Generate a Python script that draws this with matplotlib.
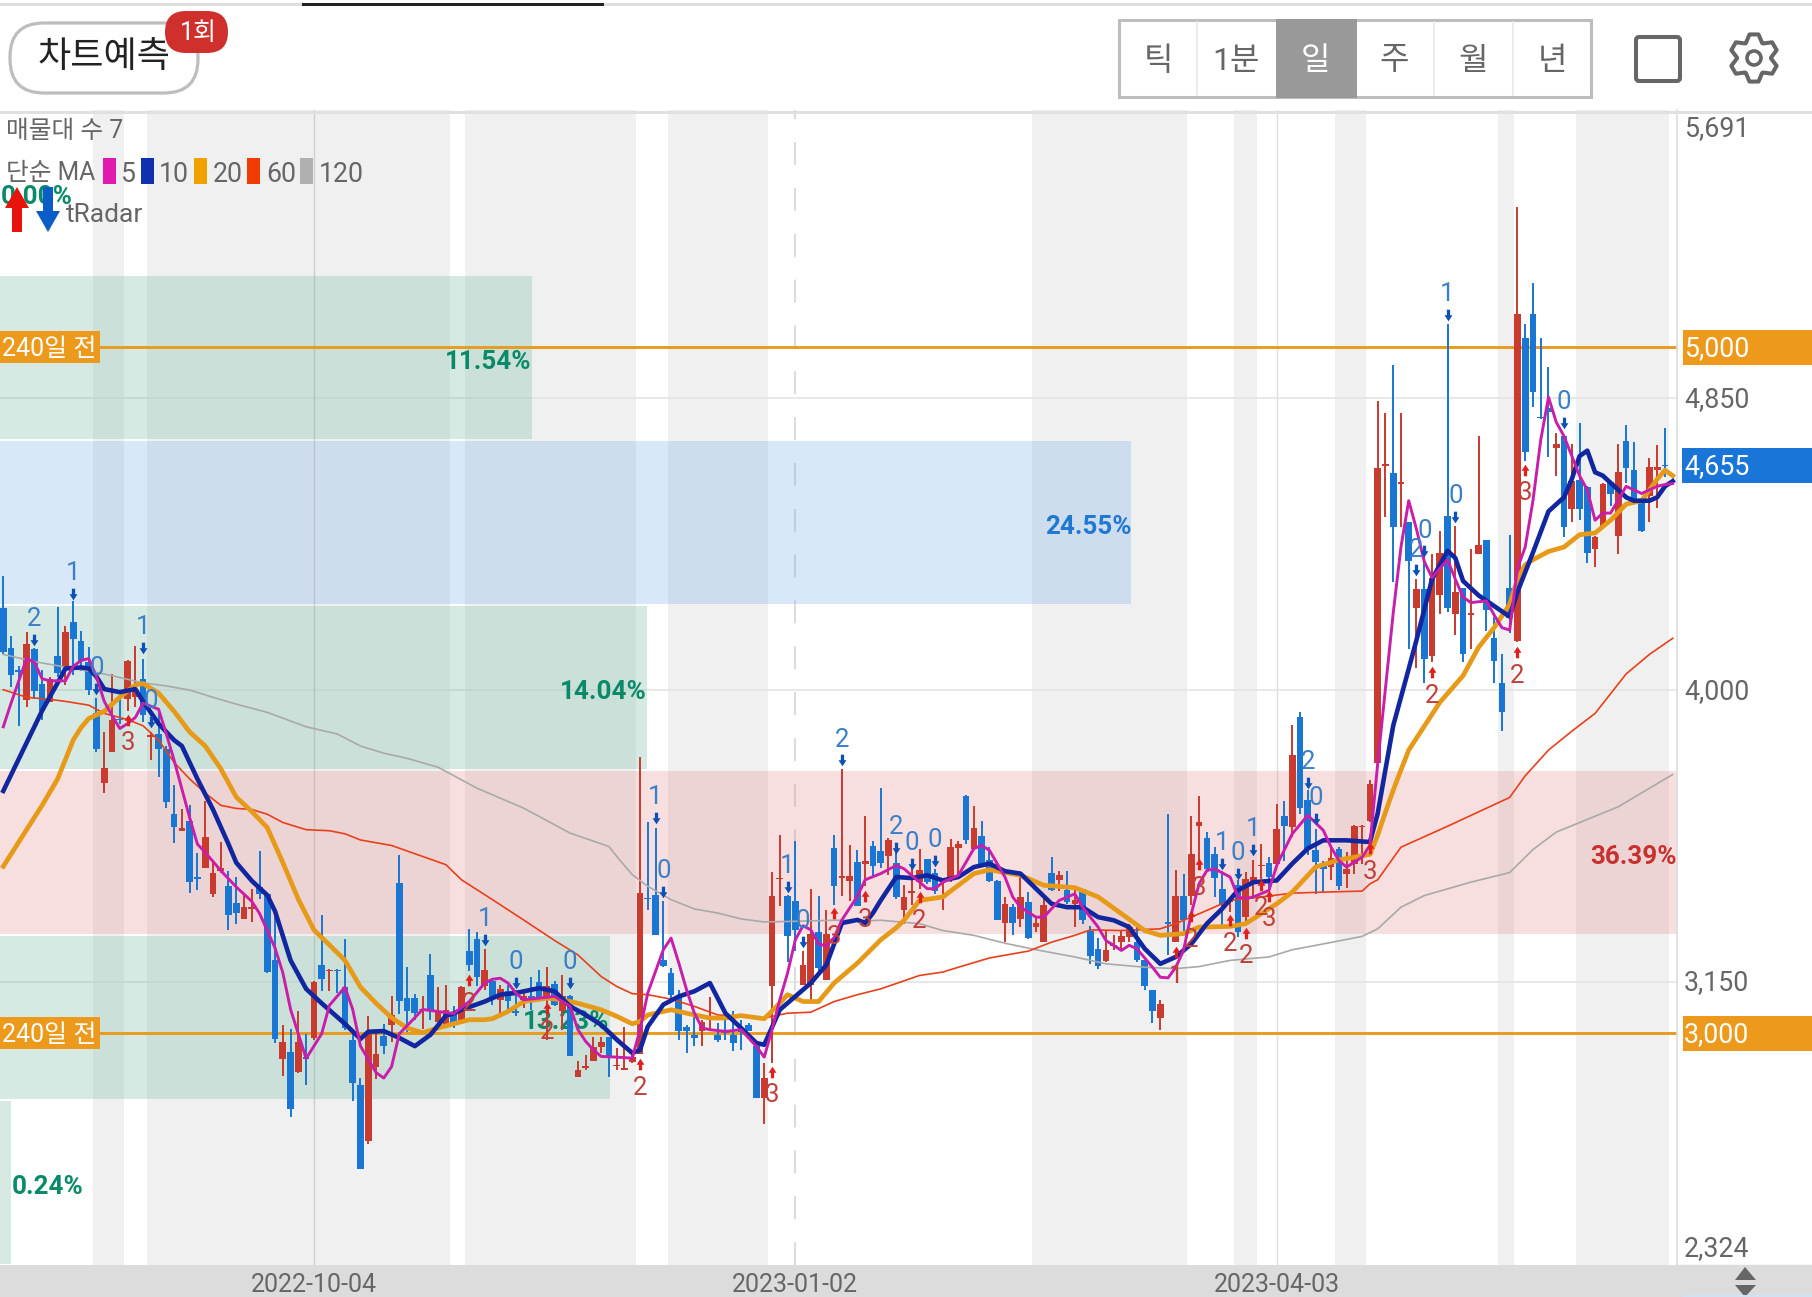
#!/usr/bin/env python3
# -*- coding: utf-8 -*-

import numpy as np
import matplotlib
matplotlib.use('Agg')
import matplotlib.pyplot as plt
from matplotlib.patches import Rectangle, FancyBboxPatch, Polygon, Circle

plt.rcParams['font.family'] = ['Roboto', 'Noto Sans CJK KR', 'DejaVu Sans']

# Candles, one entry per trading day, in won. R = red (up), B = blue (down)
candleColor = ("BBBRBBRBRB" "BBBRRBRRBR" "BBBRBBRRRB" "BRRBBBRBRB" "RBRBBBBRRB"
               "RBBBRBRRBR" "BBRBRBBRBB" "RBRBRRRRBR" "RRRBBBBBBB" "RRBBBBBBRR"
               "RBBRRBRBRR" "BRBBRBRRRB" "BRRRBRBBBR" "BRBRRBRBRB" "BBRRRRBBBR"
               "BRBRRBBBRB" "RRRBRBRBBB" "BRBRRRRRRB" "RBRBRRBRBR" "RBBBBRBBBB"
               "RBRBBRRBRB" "BBRRBB")
candleHigh = [4333,4158,4069,4170,4122,4059,4039,4241,4188,4259,
              4173,4126,3976,3878,4047,3973,4089,4128,4092,3878,
              3932,3837,3724,3652,3664,3524,3676,3497,3557,3474,
              3456,3402,3420,3530,3408,3349,3024,3012,3063,2998,
              3152,3343,3188,3188,3274,3010,2869,3051,3004,3027,
              3107,3519,3194,3114,3107,3230,3134,3141,3078,3136,
              3303,3295,3245,3160,3141,3141,3126,3126,3165,3185,
              3194,3151,3170,3112,2920,2937,2990,2990,2990,2956,
              3019,2942,3804,3614,3598,3384,3190,3126,3024,3053,
              3039,3105,3029,3053,3063,3039,3029,2966,2913,3469,
              3578,3403,3559,3238,3420,3399,3360,3578,3770,3549,
              3535,3634,3559,3714,3569,3542,3431,3484,3538,3508,
              3479,3440,3567,3560,3693,3662,3617,3542,3445,3397,
              3377,3465,3411,3338,3397,3513,3472,3472,3421,3421,
              3311,3278,3299,3285,3299,3319,3309,3212,3126,3097,
              3638,3476,3463,3632,3691,3586,3542,3474,3397,3445,
              3469,3505,3550,3513,3667,3677,3897,3936,3708,3596,
              3503,3542,3542,3528,3606,3606,3737,4844,4807,4948,
              4807,4490,4323,4417,4396,4464,5068,4479,4297,4411,
              4742,4437,4214,4106,4453,5408,5068,5188,5026,4943,
              4750,4745,4717,4779,4594,4450,4604,4609,4717,4773,
              4724,4557,4677,4714,4764,4655]
candleTop = [4238,4122,4059,4133,4119,4019,4033,4098,4170,4197,
             4142,4081,3932,3774,3914,3917,4086,3997,4033,3869,
             3872,3828,3638,3597,3619,3455,3572,3468,3480,3428,
             3378,3369,3367,3426,3405,3212,2974,2944,2974,2929,
             3150,3200,3184,3184,3134,2980,2849,2998,2938,2992,
             3054,3438,3102,3102,3071,3168,3063,3068,3060,3134,
             3240,3275,3185,3151,3128,3124,3063,3109,3109,3148,
             3138,3143,3109,3109,2893,2903,2959,2973,2990,2908,
             2898,2930,3408,3394,3403,3214,3175,3107,3017,2995,
             3031,3041,2995,3005,2995,3006,3024,2961,2869,3399,
             3452,3399,3384,3199,3290,3295,3290,3539,3459,3459,
             3498,3503,3544,3530,3564,3497,3397,3413,3476,3508,
             3467,3397,3542,3552,3692,3598,3576,3505,3442,3377,
             3367,3397,3382,3321,3372,3467,3462,3416,3387,3421,
             3299,3246,3241,3258,3282,3309,3265,3212,3126,3084,
             3323,3401,3401,3521,3615,3569,3521,3421,3387,3433,
             3450,3455,3491,3497,3596,3632,3812,3921,3680,3533,
             3496,3511,3538,3479,3603,3605,3727,4648,4658,4633,
             4606,4490,4294,4294,4328,4401,4508,4286,4297,4224,
             4422,4437,4151,4021,4297,5097,5026,5097,4797,4823,
             4717,4742,4609,4612,4592,4446,4602,4606,4635,4727,
             4641,4554,4651,4651,4656,4655]
candleBottom = [4110,4045,4054,3971,3997,3940,3965,4051,4066,4148,
                4086,4000,3828,3729,3819,3913,3973,3979,3926,3864,
                3828,3674,3601,3590,3440,3450,3480,3405,3474,3345,
                3349,3334,3361,3405,3179,2983,2924,2780,2888,2924,
                2986,3158,3180,3180,3015,2855,2605,2686,2900,2962,
                3024,3093,3063,3060,3067,3063,3033,3019,3024,3031,
                3199,3165,3136,3099,3097,3095,3058,3097,3092,3105,
                3102,3083,3063,2932,2872,2899,2920,2959,2927,2903,
                2893,2917,2939,3390,3287,3196,3112,3005,3005,2985,
                3005,3037,2981,3000,2971,3002,3005,2810,2810,3136,
                3448,3282,3301,3141,3141,3190,3154,3428,3453,3442,
                3371,3492,3486,3496,3515,3397,3358,3409,3440,3440,
                3414,3393,3445,3540,3564,3538,3494,3443,3329,3321,
                3321,3333,3278,3309,3265,3418,3445,3382,3375,3329,
                3226,3197,3210,3254,3265,3280,3212,3136,3064,3044,
                3319,3265,3329,3401,3604,3479,3452,3372,3382,3295,
                3338,3437,3487,3455,3494,3603,3601,3657,3538,3499,
                3479,3484,3428,3465,3494,3601,3618,3786,4654,4474,
                4602,4375,4240,4092,4099,4276,4240,4221,4106,4220,
                4398,4234,4085,3935,4210,4144,4695,4870,4793,4812,
                4706,4474,4529,4529,4401,4411,4474,4573,4450,4646,
                4557,4464,4565,4641,4653,4655]
candleLow = [4104,4009,3896,3950,3973,3914,3965,4039,4015,4045,
             4057,3985,3819,3700,3819,3902,3938,3950,3908,3795,
             3747,3655,3555,3590,3408,3417,3480,3396,3468,3301,
             3319,3334,3325,3390,3176,2971,2876,2754,2885,2849,
             2980,3123,3123,3117,3010,2801,2605,2676,2867,2940,
             2974,3057,3004,3039,3012,3039,3033,3019,3015,3031,
             3180,3136,3126,3083,3060,3070,3051,3073,3068,3097,
             2981,3078,3010,2932,2872,2891,2920,2942,2872,2893,
             2893,2913,2939,3360,3287,3194,3102,2981,2942,2961,
             2961,3010,2973,2981,2947,2951,3005,2810,2736,2913,
             3371,3206,3238,3141,3092,3175,3154,3374,3400,3384,
             3371,3428,3457,3481,3462,3392,3319,3372,3421,3435,
             3406,3360,3440,3455,3552,3533,3494,3440,3329,3265,
             3285,3309,3275,3295,3265,3414,3414,3377,3309,3317,
             3202,3188,3207,3241,3241,3265,3207,3126,3029,3008,
             3229,3265,3299,3372,3494,3469,3397,3309,3353,3280,
             3319,3397,3450,3416,3494,3503,3572,3640,3518,3406,
             3411,3445,3416,3424,3465,3492,3615,3786,4505,4315,
             4474,4120,4065,4021,4083,4221,4229,4161,4083,4120,
             4398,4172,4021,3880,4167,4141,4669,4825,4790,4679,
             4625,4446,4490,4495,4370,4359,4474,4536,4396,4604,
             4552,4460,4490,4531,4620,4655]

# Moving averages at the marked days
ma5Day = [0,1,2,3,4,5,6,8,9,10,11,12,13,14,15,16,17,18,20,21,22,23,24,25,26,28,30,32,33,35,36,37,38,39,41,42,44,45,46,48,49,50,51,53,54,56,58,
          60,62,63,64,65,66,67,69,71,73,74,75,76,77,79,81,82,83,85,86,87,88,89,90,91,93,95,97,98,99,100,101,102,103,104,105,106,107,108,110,111,
          113,115,116,118,119,120,121,123,125,126,127,129,130,131,133,134,136,138,139,141,142,144,145,146,148,149,150,151,152,153,154,155,156,158,159,160,161,163,164,166,168,170,171,172,173,175,176,177,
          179,180,181,182,183,184,186,187,188,189,191,192,193,194,195,196,197,198,199,200,201,203,204,205,206,207,209,211,213,214,215]
ma5 = [3893,3962,4027,4092,4081,4033,4027,4027,4069,4086,4092,4039,3967,3926,3888,3902,3920,3962,3944,3872,3795,3712,3628,3551,3527,3474,3426,3384,3349,3248,3176,3069,2998,2926,2998,3081,3134,3069,2962,2885,2869,2902,2998,3045,3069,3063,3057,
       3092,3146,3157,3160,3146,3117,3097,3102,3107,3078,3010,2976,2951,2932,2930,2927,3010,3117,3243,3277,3204,3126,3058,3015,3010,3005,3010,2961,2930,3010,3097,3175,3272,3313,3301,3260,3254,3279,3330,3399,3447,
       3465,3489,3479,3440,3421,3421,3440,3460,3538,3547,3533,3455,3397,3367,3338,3338,3387,3406,3367,3309,3270,3241,3256,3246,3192,3163,3161,3192,3241,3348,3435,3474,3479,3455,3397,3392,3397,3416,3489,3581,3635,3591,3542,3503,3484,3513,3547,3785,
       4224,4417,4552,4469,4375,4328,4380,4323,4271,4255,4260,4219,4182,4175,4354,4417,4552,4729,4854,4781,4740,4625,4583,4495,4516,4516,4594,4573,4594,4599,4602]
ma10Day = [0,5,7,8,10,11,12,13,15,17,18,20,22,23,25,27,29,30,32,34,35,37,39,41,44,46,47,49,51,53,55,57,58,
           59,62,64,66,69,71,73,75,77,79,81,82,83,85,87,89,91,93,95,97,98,100,102,104,106,108,110,111,112,
           113,115,117,119,121,123,125,127,129,131,133,135,137,139,141,143,145,147,149,151,153,155,157,159,161,164,166,168,170,173,176,177,
           179,181,182,184,186,187,188,190,192,194,195,197,199,201,202,203,204,205,206,207,209,210,212,213,214,215]
ma10 = [3706,3940,4021,4063,4066,4063,4039,4003,3994,4003,3967,3902,3854,3837,3741,3652,3551,3497,3444,3402,3355,3212,3129,3087,3027,2983,3004,3006,2986,2962,2995,3051,3057,
        3068,3092,3112,3117,3131,3122,3078,3053,3024,2981,2942,2951,3019,3083,3107,3122,3146,3058,3015,2971,2966,3068,3107,3146,3199,3321,3330,3321,3350,
        3387,3455,3452,3460,3445,3455,3484,3494,3472,3465,3421,3377,3367,3367,3338,3329,3309,3246,3202,3222,3260,3319,3363,3416,3440,3445,3494,3538,3562,3562,3557,3640,
        3896,4062,4146,4323,4406,4385,4318,4276,4245,4214,4286,4401,4521,4562,4615,4682,4698,4635,4625,4604,4562,4552,4552,4562,4594,4609]
ma20Day = [0,3,5,7,9,10,11,13,15,17,18,20,22,24,26,28,30,32,34,36,38,40,42,44,46,48,50,52,54,56,58,
           60,62,63,65,67,70,72,74,77,79,81,82,83,86,89,91,93,95,98,100,101,103,105,107,110,113,
           115,116,118,119,121,123,125,127,131,134,138,141,144,147,149,152,154,158,160,164,166,169,172,176,177,178,179,180,181,
           185,188,190,192,194,195,196,197,199,201,203,205,207,209,211,213,214,215]
ma20 = [3486,3593,3664,3741,3854,3890,3917,3938,3979,4015,4019,3991,3938,3878,3837,3771,3688,3646,3599,3497,3390,3301,3257,3212,3134,3087,3045,3015,3001,3015,3027,
        3039,3039,3042,3063,3092,3102,3097,3087,3068,3049,3027,3034,3053,3068,3053,3044,3044,3051,3042,3087,3112,3092,3092,3146,3204,3272,
        3307,3329,3387,3390,3397,3431,3465,3476,3460,3431,3424,3397,3348,3299,3285,3290,3309,3311,3319,3377,3411,3484,3505,3521,3577,3644,3708,3767,3825,
        3964,4042,4125,4182,4250,4323,4365,4380,4404,4417,4453,4458,4495,4542,4552,4615,4641,4625]
ma60Day = [0,3,6,8,11,13,16,18,20,22,24,26,28,30,32,34,36,39,42,44,46,50,54,57,59,63,67,71,74,77,79,81,83,86,89,92,95,98,101,104,107,110,113,
           118,121,123,127,132,135,138,140,144,149,151,154,158,162,166,170,175,176,177,180,186,194,196,199,202,205,209,212,215]
ma60 = [4001,3979,3973,3967,3956,3932,3914,3896,3854,3789,3741,3700,3664,3655,3652,3638,3614,3593,3590,3581,3563,3547,3515,3491,3447,3389,3330,3270,3228,3165,3136,3115,3112,3099,3078,3053,3049,3044,3058,3061,3092,3112,3129,
        3168,3178,3192,3219,3239,3265,3285,3301,3299,3304,3319,3348,3387,3397,3408,3411,3414,3435,3447,3542,3603,3687,3750,3825,3880,3932,4047,4104,4151]
ma120Day = [0,4,9,13,18,21,24,27,30,34,39,43,46,49,52,56,61,67,73,78,79,81,83,86,89,92,95,98,102,107,112,
            113,118,121,125,129,133,138,142,147,151,154,158,163,166,170,175,177,180,183,189,194,197,200,208,215]
ma120 = [4104,4083,4063,4047,4021,4012,4000,3979,3959,3935,3893,3872,3837,3816,3801,3775,3714,3656,3583,3544,3515,3462,3428,3389,3362,3350,3333,3324,3326,3329,3328,
         3329,3319,3299,3285,3262,3243,3222,3202,3192,3188,3194,3212,3222,3243,3260,3282,3304,3367,3401,3440,3468,3535,3586,3660,3754]

# Volume by price bins, top to bottom, in percent
volumeShare = [0.00, 11.54, 24.55, 14.04, 36.39, 13.23, 0.24]
volumeKind = ['g', 'g', 'b', 'g', 'r', 'g', 'g']

# Signals: day, number, price of the small arrow
downDay = [4,9,12,18,19,62,66,73,84,85,101,103,108,115,117,120,157,159,161,168,169,182,183,186,187,201]
downNum = [2,1,0,1,0,1,0,0,1,0,1,0,2,2,0,0,1,0,1,2,0,2,0,1,0,0]
downPrice = [4146,4280,4003,4122,3908,3272,3146,3146,3627,3411,3426,3267,3795,3539,3494,3503,3494,3465,3535,3729,3625,4349,4404,5094,4505,4779]
upDay = [16,60,70,82,99,107,111,118,151,153,154,158,160,162,163,176,184,195,196]
upNum = [3,2,2,2,3,3,3,2,1,2,3,2,2,2,3,3,2,2,3]
upPrice = [3914,3155,3073,2910,2888,3350,3399,3397,3236,3340,3492,3329,3293,3433,3401,3539,4052,4111,4643]

priceMin = 2324
priceMax = 5691
gridPrices = [4850, 4000, 3150]
axisLabels = [5691, 4850, 4000, 3150, 2324]
anchorPrices = [5000, 3000]
lastPrice = 4655
dateDays = [40, 102, 164]
dateLabels = ['2022-10-04', '2023-01-02', '2023-04-03']
shadeStart = [11.5, 18.5, 59.5, 85.6, 132.5, 158.5, 171.5, 192.5, 202.5]
shadeEnd = [15.5, 57.5, 81.5, 98.5, 152.4, 161.5, 175.5, 194.5, 214.5]

RED = '#c93a2f'
BLUE = '#1976d2'
ORANGE = '#e89b1c'
GRAY_TEXT = '#666666'
profileColors = {'g': '#68b59b', 'b': '#73aae6', 'r': '#e68989'}
labelColors = {'g': '#0a8a68', 'b': '#1f78d2', 'r': '#c8322e'}

W, H = 1812, 1297
fig = plt.figure(figsize=(W/100, H/100), dpi=100, facecolor='white')
fig.add_artist(Rectangle((0, 0), 1, 32/H, transform=fig.transFigure,
                         color='#dcdcdc', zorder=-1))

# main plot
plotRight = 1677
ax = fig.add_axes([0, 32/H, plotRight/W, 1155/H], zorder=1)
xMin = -0.425
xMax = 215.55
ax.set_xlim(xMin, xMax)
ax.set_ylim(priceMin, priceMax)
ax.set_yticks([])
for side in ['top', 'left', 'bottom']:
    ax.spines[side].set_visible(False)
ax.spines['right'].set_color('#dcdcdc')
ax.spines['right'].set_linewidth(1.2)
ax.set_xticks(dateDays)
ax.set_xticklabels(dateLabels, fontsize=18, color=GRAY_TEXT)
ax.tick_params(axis='x', length=0, pad=5.5)

for start, end in zip(shadeStart, shadeEnd):
    ax.axvspan(start, end, color='#f0f0f0', lw=0, zorder=0)

for price in gridPrices:
    ax.axhline(price, color='#e2e2e2', lw=1.1, zorder=1)
ax.axvline(dateDays[0], color='#cfcfcf', lw=1, zorder=1)
ax.axvline(dateDays[1], color='#dcdcdc', lw=1.5, dashes=(11, 11), zorder=1)
ax.axvline(dateDays[2], color='#e0e0e0', lw=1, zorder=1)

# volume profile behind everything
binEdges = np.linspace(priceMax, priceMin, len(volumeShare)+1)
binHeight = (priceMax-priceMin)/len(volumeShare)
for k, share in enumerate(volumeShare):
    center = (binEdges[k]+binEdges[k+1])/2
    barWidth = share/max(volumeShare)*(xMax-xMin)
    ax.barh(center, barWidth, left=xMin, height=binHeight-6,
            color=profileColors[volumeKind[k]], alpha=0.27, lw=0, zorder=1.5)
    if share < 1:
        ax.text(xMin+barWidth+0.05, center-13, '%.2f%%' % share, ha='left', va='center',
                fontsize=18.7, fontweight='bold', color=labelColors[volumeKind[k]], zorder=2)
    else:
        ax.text(xMin+barWidth, center-13, '%.2f%%' % share, ha='right', va='center',
                fontsize=18.7, fontweight='bold', color=labelColors[volumeKind[k]], zorder=2)

# anchor lines
for price in anchorPrices:
    ax.axhline(price, color=ORANGE, lw=2.1, zorder=2.5)
    ax.barh(price, 12.9, left=xMin, height=93, color='#ed9a1c', lw=0, zorder=2.6)
    ax.text(xMin+0.3, price-6, '240일 전', color='white', fontsize=18, va='center', ha='left', zorder=2.7)

# candles
days = np.arange(len(candleHigh))
colors = [RED if c == 'R' else BLUE for c in candleColor]
ax.vlines(days, candleLow, candleHigh, colors=colors, lw=1.4, zorder=3)
ax.bar(days, np.array(candleTop)-np.array(candleBottom), bottom=candleBottom,
       width=0.86, color=colors, lw=0, zorder=3)

# moving averages
ax.plot(ma120Day, ma120, color='#a9a9a9', lw=1.2, zorder=4)
ax.plot(ma60Day, ma60, color='#e8401a', lw=1.2, zorder=4)
ax.plot(ma20Day, ma20, color='#e69a18', lw=3.4, zorder=4.1, solid_joinstyle='round')
ax.plot(ma10Day, ma10, color='#1226a0', lw=3.3, zorder=4.2, solid_joinstyle='round')
ax.plot(ma5Day, ma5, color='#c81eaa', lw=2.1, zorder=4.3, solid_joinstyle='round')

# signals
downArrow = [(-0.28, 1), (0.28, 1), (0.28, 0.05), (0.68, 0.05), (0, -1), (-0.68, 0.05), (-0.28, 0.05)]
upArrow = [(x, -y) for x, y in downArrow]
ax.scatter(downDay, downPrice, marker=downArrow, s=70, color='#0a50b8', lw=0, zorder=5)
ax.scatter(upDay, upPrice, marker=upArrow, s=70, color='#e0201c', lw=0, zorder=5)
for day, num, price in zip(downDay, downNum, downPrice):
    ax.annotate(str(num), (day, price), xytext=(0, 15), textcoords='offset points',
                ha='center', va='center', fontsize=18.5, color='#3b7fc9', zorder=5)
for day, num, price in zip(upDay, upNum, upPrice):
    ax.annotate(str(num), (day, price), xytext=(0, -17), textcoords='offset points',
                ha='center', va='center', fontsize=18.5, color='#c0403a', zorder=5)

# right hand price labels
axR = fig.add_axes([plotRight/W, 32/H, (W-plotRight)/W, 1155/H], zorder=2)
axR.set_xlim(plotRight, W)
axR.set_ylim(priceMin, priceMax)
axR.axis('off')
labelX = 1684
for price in axisLabels:
    shift = -1
    if price == priceMax:
        shift = -13.5
    if price == priceMin:
        shift = 11.5
    axR.annotate('{:,}'.format(price), (labelX, price), xytext=(0, shift), textcoords='offset points',
                 ha='left', va='center', fontsize=19.3, color=GRAY_TEXT)
for price in anchorPrices:
    axR.barh(price, W-1683, left=1683, height=102, color='#ed9a1c', lw=0)
    axR.text(labelX, price-4, '{:,}'.format(price), ha='left', va='center', fontsize=19.3, color='white')
axR.barh(lastPrice, W-1682, left=1682, height=100, color='#1976d8', lw=0)
axR.text(labelX, lastPrice-4, '{:,}'.format(lastPrice), ha='left', va='center', fontsize=19.3, color='white')

# screen furniture, in pixels
ui = fig.add_axes([0, 0, 1, 1], zorder=3)
ui.set_xlim(0, W)
ui.set_ylim(H, 0)
ui.axis('off')

ui.add_patch(Rectangle((0, 3), W, 3, color='#dedede', lw=0))
ui.add_patch(Rectangle((302, 3), 302, 3, color='#222222', lw=0))
ui.add_patch(Rectangle((0, 111), W, 3, color='#e0e0e0', lw=0))

ui.add_patch(FancyBboxPatch((10, 23), 188, 70, boxstyle='round,pad=0,rounding_size=34',
                            fc='white', ec='#bdbdbd', lw=2.3))
ui.text(104, 57, '차트예측', ha='center', va='center', fontsize=26, color='#222222')
ui.add_patch(FancyBboxPatch((165, 11), 63, 42, boxstyle='round,pad=0,rounding_size=21',
                            fc='#cf302c', ec='none'))
ui.text(198, 33, '1회', ha='center', va='center', fontsize=18, color='white')

ui.add_patch(Rectangle((1119, 20), 472, 77, fc='white', ec='#bdbdbd', lw=2.2))
ui.add_patch(Rectangle((1276, 19), 81, 79, fc='#999999', ec='none'))
for x in [1197, 1434, 1513]:
    ui.plot([x, x], [22, 95], color='#e8e8e8', lw=1.2)
periods = ['틱', '1분', '일', '주', '월', '년']
periodX = [1158, 1236, 1315, 1394, 1473, 1552]
for label, x in zip(periods, periodX):
    ui.text(x, 61, label, ha='center', va='center', fontsize=23,
            color='white' if label == '일' else GRAY_TEXT)

ui.add_patch(FancyBboxPatch((1636, 37), 44, 44, boxstyle='round,pad=0,rounding_size=3',
                            fc='none', ec=GRAY_TEXT, lw=2.9))
# gear icon, six lobes with one on top
toothAngles = -np.pi/2 + np.arange(6)*np.pi/3
gearPoints = []
for a in toothAngles:
    gearPoints.append((1754+24*np.cos(a-0.19), 58+24*np.sin(a-0.19)))
    gearPoints.append((1754+24*np.cos(a+0.19), 58+24*np.sin(a+0.19)))
    gearPoints.append((1754+17*np.cos(a+0.5), 58+17*np.sin(a+0.5)))
    gearPoints.append((1754+17*np.cos(a+0.55), 58+17*np.sin(a+0.55)))
ui.add_patch(Polygon(gearPoints, closed=True, fc='none', ec=GRAY_TEXT, lw=2.9, joinstyle='round'))
ui.add_patch(Circle((1754, 58), 7, fc='none', ec=GRAY_TEXT, lw=2.6))

ui.text(6, 131, '매물대 수 7', ha='left', va='center', fontsize=17.8, color=GRAY_TEXT)
ui.text(6, 173, '단순 MA', ha='left', va='center', fontsize=17.8, color=GRAY_TEXT)
swatchX = [103, 141, 194, 247, 300]
swatchColor = ['#e01ab0', '#1030b0', '#f0a000', '#f03c00', '#b0b0b0']
swatchText = ['5', '10', '20', '60', '120']
textX = [121, 159, 213, 266, 319]
for x, c, t, tx in zip(swatchX, swatchColor, swatchText, textX):
    ui.add_patch(Rectangle((x, 158), 13, 26, color=c, lw=0))
    ui.text(tx, 174, t, ha='left', va='center', fontsize=19.2, color=GRAY_TEXT)

ui.add_patch(Polygon([(17, 187), (29, 208), (22, 208), (22, 232), (12, 232), (12, 208), (5, 208)],
                     closed=True, color='#e8140c', lw=0))
ui.add_patch(Polygon([(48, 232), (36, 211), (43, 211), (43, 187), (53, 187), (53, 211), (60, 211)],
                     closed=True, color='#0a5cc8', lw=0))
ui.text(66, 215, 'tRadar', ha='left', va='center', fontsize=19, color=GRAY_TEXT)

ui.add_patch(Polygon([(1745, 1267), (1735, 1280), (1756, 1280)], closed=True, color=GRAY_TEXT, lw=0))
ui.add_patch(Polygon([(1745, 1297), (1735, 1285), (1756, 1285)], closed=True, color=GRAY_TEXT, lw=0))
ui.add_patch(Rectangle((1683, 1295), W-1683, 2, color='#cfe3f7', lw=0))

fig.savefig('out.png', dpi=100)
